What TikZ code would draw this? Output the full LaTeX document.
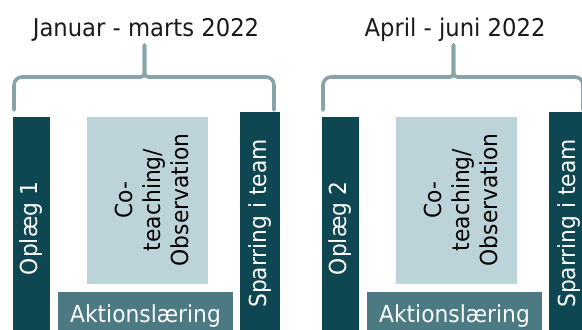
\documentclass[tikz,border=0pt]{standalone}
\usepackage{fontspec}
\setmainfont{DejaVu Sans}[FakeStretch=0.93]
\definecolor{darkteal}{RGB}{14,70,81}
\definecolor{midteal}{RGB}{75,122,130}
\definecolor{lightblue}{RGB}{189,211,218}
\definecolor{bracecol}{RGB}{136,164,169}
\definecolor{titlecol}{RGB}{26,26,26}
\begin{document}
\begin{tikzpicture}[x=1bp,y=1bp,
  boxtext/.style={font=\fontsize{23.5}{28}\selectfont},
  darkbox/.style={boxtext, fill=darkteal, text=white, rotate=90, inner sep=0pt, minimum height=37bp},
  midbox/.style={boxtext, fill=midteal, text=white, inner sep=0pt},
  lightbox/.style={fill=lightblue, rotate=90, inner sep=0pt},
  cotext/.style={font=\fontsize{23.5}{28}\selectfont, text=black, rotate=90, align=center, inner sep=0pt},
  titletext/.style={font=\fontsize{24.5}{28}\selectfont, text=titlecol, inner sep=0pt},
  bracestyle/.style={draw=bracecol, line width=3.6bp, line cap=round}]
\useasboundingbox (0,0) rectangle (582,-329);
\clip (0,0) rectangle (582,-329);
\fill[white] (0,0) rectangle (582,-329);
\foreach \g/\dx/\ttl/\op in {1/0/{Januar - marts 2022}/{Oplæg 1}, 2/309/{April - juni 2022}/{Oplæg 2}}{
  \begin{scope}[xshift=\dx bp]
    \node[titletext] (title\g) at (146,-29.5) {\ttl};
    \coordinate (bl\g) at (14,-110);
    \coordinate (br\g) at (274,-110);
    \coordinate (bt\g) at (144.5,-45);
    \coordinate (bm\g) at (144.5,-77);
    \draw[bracestyle] (bl\g) [rounded corners=8bp] -- (bl\g |- bm\g) [rounded corners=4bp] -- (bm\g) -- (bt\g);
    \draw[bracestyle] (br\g) [rounded corners=8bp] -- (br\g |- bm\g) [rounded corners=4bp] -- (bm\g) -- (bt\g);
    \node[darkbox, minimum width=223bp] (op\g) at (31.5,-228.5) {\op};
    \node[darkbox, minimum width=223bp, minimum height=40bp] (sp\g) at (260,-223.5) {Sparring i team};
    \node[lightbox, minimum width=167bp, minimum height=121bp] (co\g) at (147.5,-200.5) {};
    \node[cotext] (cot\g) at (152,-200) {Co-\\teaching/\\Observation};
    \node[midbox, minimum width=175bp, minimum height=48bp] (ak\g) at (145.5,-316) {Aktionslæring};
  \end{scope}
}
\end{tikzpicture}
\end{document}
